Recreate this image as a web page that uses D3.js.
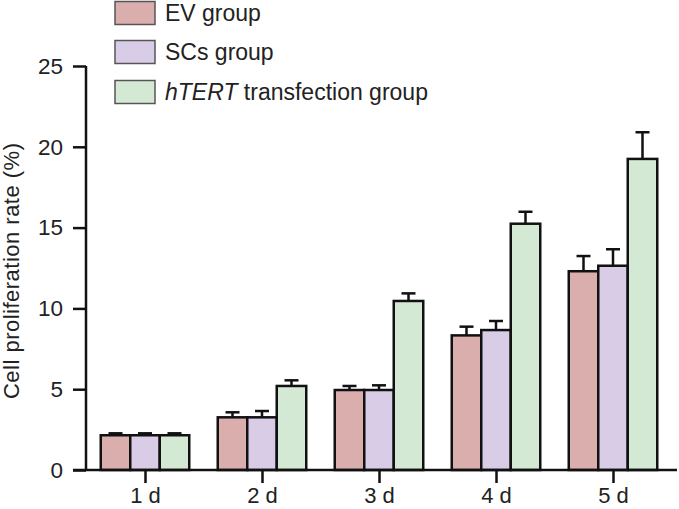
<!DOCTYPE html>
<html><head><meta charset="utf-8">
<script src="https://cdn.jsdelivr.net/npm/d3@7"></script>
<style>body{margin:0;background:#fff}svg{display:block}text{font-family:"Liberation Sans",Arial,sans-serif;fill:#222}</style>
</head><body><svg id="c" width="679" height="509"></svg>
<script>
const categories = ["1 d","2 d","3 d","4 d","5 d"];
const seriesNames = ["EV group","SCs group","hTERT transfection group"];
const evValues = [2.15, 3.26, 4.95, 8.33, 12.3];
const evErrors = [0.12, 0.31, 0.25, 0.54, 0.94];
const scsValues = [2.15, 3.26, 4.95, 8.66, 12.64];
const scsErrors = [0.12, 0.39, 0.29, 0.56, 1.02];
const htertValues = [2.15, 5.2, 10.46, 15.24, 19.25];
const htertErrors = [0.12, 0.35, 0.47, 0.74, 1.65];
const yTicks = [0, 5, 10, 15, 20, 25];
const colors = ["#d9aeac", "#d8cce6", "#d3e9d4"];

const series = [
  {name: seriesNames[0], values: evValues, errors: evErrors},
  {name: seriesNames[1], values: scsValues, errors: scsErrors},
  {name: seriesNames[2], values: htertValues, errors: htertErrors}
];

const svg = d3.select("#c");
const plotLeft = 86, plotBottom = 470, plotTop = 66;
const y = d3.scaleLinear().domain([0, 25]).range([plotBottom, plotTop]);
const x0 = d3.scalePoint().domain(categories).range([145, 613]);
const barW = 29.5;
const xs = d3.scaleBand().domain(d3.range(series.length)).range([-barW*1.5, barW*1.5]).padding(0);
const fontFam = '"Liberation Sans",Arial,sans-serif';

// bars
series.forEach((s, si) => {
  const g = svg.append("g");
  categories.forEach((c, ci) => {
    const bx = x0(c) + xs(si);
    const v = s.values[ci], e = s.errors[ci];
    const cx = bx + xs.bandwidth()/2;
    g.append("line").attr("x1", cx).attr("x2", cx).attr("y1", y(v)).attr("y2", y(v+e))
      .attr("stroke", "#111").attr("stroke-width", 2.5);
    g.append("line").attr("x1", cx-7).attr("x2", cx+7).attr("y1", y(v+e)).attr("y2", y(v+e))
      .attr("stroke", "#111").attr("stroke-width", 2.5);
    g.append("rect").attr("x", bx).attr("y", y(v)).attr("width", xs.bandwidth()).attr("height", y(0)-y(v))
      .attr("fill", colors[si]).attr("stroke", "#111").attr("stroke-width", 2.5);
  });
});

// y axis
const yAxis = d3.axisLeft(y).tickValues(yTicks).tickSize(13).tickPadding(10).tickSizeOuter(0);
const ya = svg.append("g").attr("transform", `translate(${plotLeft},0)`).call(yAxis);
ya.select(".domain").attr("stroke", "#111").attr("stroke-width", 2.5).attr("d", `M0,${plotTop}V${plotBottom}`);
ya.selectAll(".tick line").attr("stroke", "#111").attr("stroke-width", 2.5);
ya.selectAll(".tick text").attr("font-size", 22.5).attr("fill", "#222").style("font-family", fontFam);

// x axis
const xAxis = d3.axisBottom(x0).tickSize(13).tickPadding(4).tickSizeOuter(0);
const xa = svg.append("g").attr("transform", `translate(0,${plotBottom})`).call(xAxis);
xa.select(".domain").attr("stroke", "#111").attr("stroke-width", 2.5).attr("d", `M73,0H677`);
xa.selectAll(".tick line").attr("stroke", "#111").attr("stroke-width", 2.5);
xa.selectAll(".tick text").attr("font-size", 22).attr("fill", "#222").style("font-family", fontFam);

// y title
svg.append("text").attr("transform", "translate(19,271) rotate(-90)").attr("text-anchor", "middle")
  .attr("font-size", 22).attr("textLength", 256).attr("lengthAdjust", "spacing")
  .text("Cell proliferation rate (%)");

// legend
const legY = [13, 52, 92];
series.forEach((s, i) => {
  svg.append("rect").attr("x", 115).attr("y", legY[i]-11.5).attr("width", 40).attr("height", 23)
    .attr("fill", colors[i]).attr("stroke", "#555").attr("stroke-width", 1.5);
  const t = svg.append("text").attr("x", 165).attr("y", legY[i]+8).attr("font-size", 23);
  if (i === 2) {
    t.append("tspan").attr("font-style", "italic").text("hTERT");
    t.append("tspan").text(" transfection group");
  } else t.text(s.name);
});
</script></body></html>
